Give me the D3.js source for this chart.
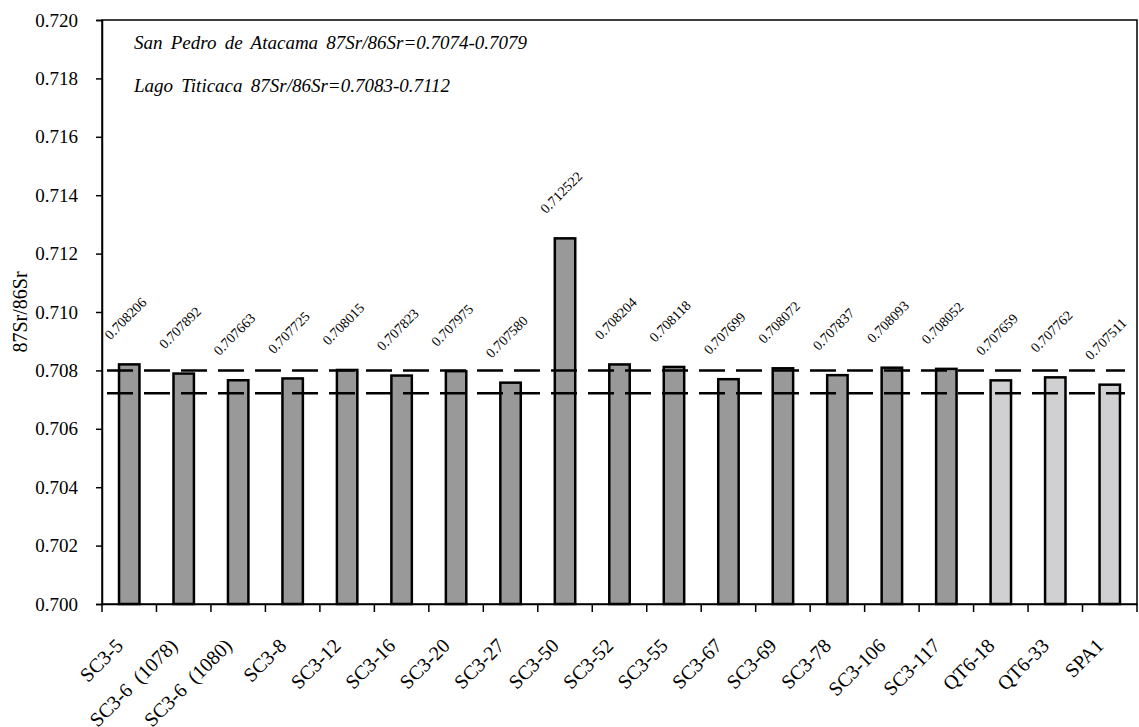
<!DOCTYPE html>
<html>
<head>
<meta charset="utf-8">
<script src="https://cdn.jsdelivr.net/npm/d3@7"></script>
<style>
  body { margin: 0; background: #fff; }
  text { font-family: "Liberation Serif", "Times New Roman", serif; fill: #000; }
</style>
</head>
<body>
<div class="chart"></div>
<script>
// Sample names along the x axis
var samples = ["SC3-5", "SC3-6  (1078)", "SC3-6  (1080)", "SC3-8", "SC3-12", "SC3-16", "SC3-20",
  "SC3-27", "SC3-50", "SC3-52", "SC3-55", "SC3-67", "SC3-69", "SC3-78", "SC3-106", "SC3-117",
  "QT6-18", "QT6-33", "SPA1"];

// 87Sr/86Sr ratios
var ratios = [0.708206, 0.707892, 0.707663, 0.707725, 0.708015, 0.707823, 0.707975, 0.707580,
  0.712522, 0.708204, 0.708118, 0.707699, 0.708072, 0.707837, 0.708093, 0.708052,
  0.707659, 0.707762, 0.707511];

// group of each sample (dark = SC3, light = QT6/SPA)
var groups = ["SC3", "SC3", "SC3", "SC3", "SC3", "SC3", "SC3", "SC3", "SC3", "SC3", "SC3",
  "SC3", "SC3", "SC3", "SC3", "SC3", "other", "other", "other"];

// dashed reference lines
var refLines = [0.70800, 0.70722];

var yTicks = [0.700, 0.702, 0.704, 0.706, 0.708, 0.710, 0.712, 0.714, 0.716, 0.718, 0.720];

var notes = ["San Pedro de Atacama 87Sr/86Sr=0.7074-0.7079",
  "Lago Titicaca 87Sr/86Sr=0.7083-0.7112"];

var svgWidth = 1139;
var svgHeight = 727;
var margin = { top: 20, right: 2, bottom: 123, left: 102 };
var width = svgWidth - margin.left - margin.right;
var height = svgHeight - margin.top - margin.bottom;

var svg = d3.select(".chart")
  .append("svg")
  .attr("width", svgWidth)
  .attr("height", svgHeight);

var chart = svg.append("g")
  .attr("transform", "translate(" + margin.left + "," + margin.top + ")");

var xScale = d3.scaleBand().domain(samples).range([0, width]).padding(0);
var yScale = d3.scaleLinear().domain([0.700, 0.720]).range([height, 0]);

var barW = xScale.bandwidth() * 0.375;

// plot area border
chart.append("rect")
  .attr("x", 0).attr("y", 0)
  .attr("width", width).attr("height", height)
  .attr("fill", "none")
  .attr("stroke", "#000")
  .attr("stroke-width", 1.5);

// bars
chart.selectAll(".bar")
  .data(ratios)
  .enter()
  .append("rect")
  .attr("class", "bar")
  .attr("x", function(d, i) { return xScale(samples[i]) + xScale.bandwidth() / 2 - barW / 2; })
  .attr("y", function(d) { return yScale(d); })
  .attr("width", barW)
  .attr("height", function(d) { return height - yScale(d); })
  .attr("fill", function(d, i) { return groups[i] == "SC3" ? "#999999" : "#d0d0d2"; })
  .attr("stroke", "#000")
  .attr("stroke-width", 2.5);

// dashed reference lines
chart.selectAll(".ref")
  .data(refLines)
  .enter()
  .append("line")
  .attr("class", "ref")
  .attr("x1", 5)
  .attr("x2", width - 12)
  .attr("y1", function(d) { return yScale(d); })
  .attr("y2", function(d) { return yScale(d); })
  .attr("stroke", "#000")
  .attr("stroke-width", 2.5)
  .attr("stroke-dasharray", "26,11");

// value labels, rotated
chart.selectAll(".val")
  .data(ratios)
  .enter()
  .append("text")
  .attr("class", "val")
  .attr("transform", function(d, i) {
    var cx = xScale(samples[i]) + xScale.bandwidth() / 2;
    return "translate(" + (cx - 19) + "," + (yScale(d) - 24) + ") rotate(-45)";
  })
  .style("font-size", "14px")
  .text(function(d) { return d3.format(".6f")(d); });

// x axis
var bottomAxis = d3.axisBottom(xScale).tickSize(0).tickFormat("");
var xAxis = chart.append("g")
  .attr("transform", "translate(0," + height + ")")
  .call(bottomAxis);
xAxis.select(".domain").attr("stroke-width", 1.5);

// ticks at category boundaries
chart.append("g")
  .selectAll("line")
  .data(d3.range(samples.length + 1))
  .enter()
  .append("line")
  .attr("x1", function(i) { return i * xScale.step(); })
  .attr("x2", function(i) { return i * xScale.step(); })
  .attr("y1", height)
  .attr("y2", height + 8)
  .attr("stroke", "#000")
  .attr("stroke-width", 1.5);

// category labels
chart.selectAll(".cat")
  .data(samples)
  .enter()
  .append("text")
  .attr("class", "cat")
  .attr("transform", function(d) {
    var cx = xScale(d) + xScale.bandwidth() / 2;
    return "translate(" + (cx - 5) + "," + (height + 43) + ") rotate(-45)";
  })
  .style("text-anchor", "end")
  .style("font-size", "20px")
  .style("white-space", "pre")
  .text(function(d) { return d; });

// y axis
var leftAxis = d3.axisLeft(yScale).tickValues(yTicks).tickFormat(d3.format(".3f")).tickSize(6).tickPadding(18);
var yAxis = chart.append("g").call(leftAxis);
yAxis.select(".domain").attr("stroke-width", 1.5);
yAxis.selectAll(".tick line").attr("stroke-width", 1.5);
yAxis.selectAll(".tick text")
  .style("font-family", "'Liberation Serif', 'Times New Roman', serif")
  .style("font-size", "19px");

// y axis title
chart.append("text")
  .attr("transform", "rotate(-90)")
  .attr("x", -height / 2)
  .attr("y", -75)
  .style("text-anchor", "middle")
  .style("font-size", "20px")
  .text("87Sr/86Sr");

// notes
chart.selectAll(".note")
  .data(notes)
  .enter()
  .append("text")
  .attr("class", "note")
  .attr("x", 32)
  .attr("y", function(d, i) { return 29 + i * 42.5; })
  .style("font-size", "19px")
  .style("font-style", "italic")
  .style("word-spacing", "3.5px")
  .text(function(d) { return d; });
</script>
</body>
</html>
